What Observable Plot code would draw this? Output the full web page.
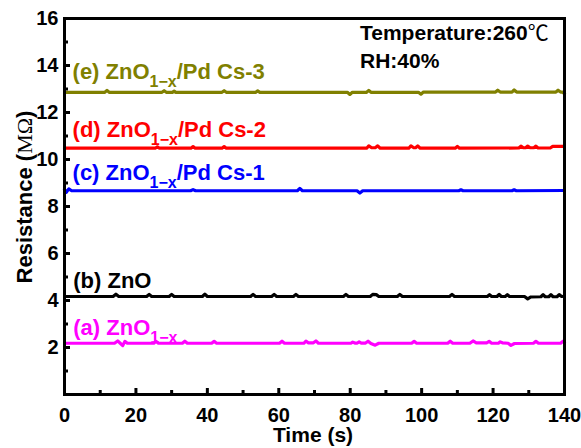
<!DOCTYPE html>
<html><head><meta charset="utf-8">
<script src="https://cdn.jsdelivr.net/npm/d3@7"></script>
<script src="https://cdn.jsdelivr.net/npm/@observablehq/plot@0.6"></script>
<style>body{margin:0;background:#fff} #chart svg{overflow:visible}</style>
</head><body><div id="chart"></div>
<script>
// Series: [time (s), resistance (MΩ)]
const seriesA = [[0,2.18],[14,2.18],[14.9,2.28],[15.6,2.18],[16.3,2.08],[16.9,2.26],[17.6,2.18],[25,2.18],[25.6,2.26],[26.3,2.18],[33,2.18],[33.7,2.27],[34.4,2.18],[41.2,2.18],[41.9,2.26],[42.6,2.18],[60.2,2.18],[60.9,2.27],[61.6,2.18],[67,2.18],[67.6,2.27],[68.3,2.2],[69.7,2.2],[70.4,2.28],[71.1,2.18],[80.2,2.18],[80.7,2.23],[81.3,2.19],[82,2.19],[82.5,2.24],[83.1,2.19],[84.3,2.19],[85,2.27],[85.8,2.17],[87,2.1],[88,2.18],[97.2,2.18],[97.9,2.26],[98.6,2.18],[107.3,2.18],[108,2.27],[108.7,2.18],[113.5,2.18],[114.4,2.28],[115.3,2.2],[118.2,2.2],[118.9,2.26],[119.6,2.18],[121.5,2.18],[122,2.24],[122.6,2.2],[124.2,2.18],[125,2.09],[126,2.17],[131.3,2.18],[132,2.26],[132.7,2.18],[138.9,2.18],[139.6,2.27],[140,2.2]];
const seriesB = [[0,4.17],[13.6,4.17],[14.4,4.27],[15.2,4.17],[23,4.17],[23.7,4.26],[24.4,4.17],[29.3,4.17],[30,4.26],[30.7,4.17],[38.6,4.17],[39.3,4.27],[40,4.17],[52.1,4.17],[52.8,4.26],[53.5,4.17],[58,4.17],[58.7,4.26],[59.4,4.17],[64.1,4.17],[64.8,4.26],[65.5,4.17],[78.1,4.17],[78.8,4.26],[79.5,4.17],[85.6,4.17],[86.3,4.26],[87.3,4.25],[88,4.17],[93.2,4.17],[93.9,4.26],[94.6,4.17],[107.8,4.17],[108.5,4.26],[109.2,4.17],[118.4,4.17],[119,4.25],[119.6,4.17],[121.1,4.17],[121.7,4.26],[122.3,4.17],[123.4,4.17],[124,4.25],[124.6,4.17],[128.8,4.17],[129.7,4.07],[130.6,4.15],[133.4,4.16],[134,4.25],[134.6,4.16],[135.6,4.16],[136.2,4.25],[136.8,4.16],[137.9,4.16],[138.5,4.25],[139.2,4.17],[140,4.18]];
const seriesC = [[0,8.73],[0.5,8.6],[1.2,8.75],[2,8.67],[35.3,8.67],[36,8.72],[36.7,8.67],[65.2,8.67],[65.9,8.77],[66.6,8.67],[81.9,8.67],[82.7,8.57],[83.5,8.67],[110.4,8.67],[111,8.71],[111.6,8.67],[125.3,8.67],[125.9,8.71],[126.5,8.67],[140,8.68]];
const seriesD = [[0,10.48],[25.4,10.48],[26,10.54],[26.6,10.48],[35.4,10.48],[36,10.55],[36.6,10.48],[44.1,10.48],[44.7,10.55],[45.3,10.48],[84.6,10.48],[85.2,10.58],[86,10.5],[87,10.5],[87.7,10.58],[88.4,10.48],[96.4,10.48],[97,10.58],[97.8,10.5],[98.3,10.5],[98.9,10.58],[99.6,10.48],[109.4,10.48],[110,10.56],[110.6,10.48],[127.2,10.49],[127.8,10.57],[128.5,10.5],[129.1,10.5],[129.7,10.57],[130.4,10.5],[131.4,10.5],[132,10.57],[132.6,10.49],[136,10.49],[136.7,10.56],[140,10.56]];
const seriesE = [[0,12.86],[11.3,12.86],[11.9,12.94],[12.5,12.86],[27.3,12.86],[27.9,12.93],[28.5,12.86],[30.2,12.86],[30.7,12.91],[31.2,12.86],[44.1,12.86],[44.7,12.93],[45.3,12.86],[53.5,12.86],[54.1,12.92],[54.7,12.86],[79.2,12.86],[79.9,12.77],[80.6,12.86],[84.6,12.86],[85.2,12.94],[85.8,12.86],[99.1,12.86],[99.8,12.78],[100.5,12.87],[120.7,12.87],[121.3,12.95],[122,12.87],[125.3,12.87],[125.9,12.96],[126.6,12.87],[137.6,12.87],[138.2,12.95],[138.9,12.87],[139.4,12.87],[140,12.8]];

const seriesNames  = ["(a) ZnO1−x", "(b) ZnO", "(c) ZnO1−x/Pd Cs-1", "(d) ZnO1−x/Pd Cs-2", "(e) ZnO1−x/Pd Cs-3"];
const seriesColors = ["#ff00ff", "#000000", "#0000ff", "#ff0000", "#808000"];
const allSeries    = [seriesA, seriesB, seriesC, seriesD, seriesE];

// Label pieces: main text, subscript, suffix; anchor in data coords (t, MΩ)
const labelMain = ["(a) ZnO", "(b) ZnO", "(c) ZnO", "(d) ZnO", "(e) ZnO"];
const labelSub  = ["1−x", "", "1−x", "1−x", "1−x"];
const labelPost = ["", "", "/Pd Cs-1", "/Pd Cs-2", "/Pd Cs-3"];
const labelT    = [2.6, 2.6, 2.4, 2.4, 2.4];
const labelV    = [2.51, 4.51, 9.1, 10.94, 13.4];

const xMajor = [0, 20, 40, 60, 80, 100, 120, 140];
const xMinor = [10, 30, 50, 70, 90, 110, 130];
const yMajor = [2, 4, 6, 8, 10, 12, 14, 16];
const yMinor = [1, 3, 5, 7, 9, 11, 13, 15];

const rows = allSeries.flatMap((s, i) => s.map(([t, v]) => ({t, v, name: seriesNames[i], color: seriesColors[i]})));

const font = "'Liberation Sans', Arial, sans-serif";
const chart = Plot.plot({
  width: 581, height: 448,
  marginLeft: 64, marginRight: 17, marginTop: 18, marginBottom: 54,
  style: {fontFamily: font, fontWeight: "bold", fontSize: "18px", background: "#fff", color: "#000"},
  x: {domain: [0, 140]},
  y: {domain: [0, 16]},
  marks: [
    Plot.line(rows, {x: "t", y: "v", z: "name", stroke: "color", strokeWidth: 3.2, strokeLinejoin: "round"}),
    Plot.frame({stroke: "#000", strokeWidth: 3}),
    Plot.axisX({ticks: xMajor, tickSize: 0, tickPadding: 13, fontSize: 20, fontWeight: "bold", tickFormat: d => String(d), label: null}),
    Plot.axisX({ticks: xMajor, tickSize: -6, text: null, strokeWidth: 3, label: null}),
    Plot.axisX({ticks: xMinor, tickSize: -4, text: null, strokeWidth: 3, label: null}),
    Plot.axisY({ticks: yMajor, tickSize: 0, tickPadding: 6, fontSize: 20, fontWeight: "bold", tickFormat: d => String(d), label: null}),
    Plot.axisY({ticks: yMajor, tickSize: -6, text: null, strokeWidth: 3, label: null}),
    Plot.axisY({ticks: yMinor, tickSize: -4, text: null, strokeWidth: 3, label: null})
  ]
});
document.getElementById("chart").appendChild(chart);

const svg = d3.select(chart);
const sx = chart.scale("x"), sy = chart.scale("y");
const g = svg.append("g").attr("font-family", font).attr("font-weight", "bold").attr("text-anchor", "start");
labelMain.forEach((m, i) => {
  const t = g.append("text")
    .attr("x", sx.apply(labelT[i])).attr("y", sy.apply(labelV[i]))
    .attr("fill", seriesColors[i]).attr("font-size", 22);
  t.append("tspan").text(m);
  if (labelSub[i]) t.append("tspan").attr("font-size", 16).attr("dy", 8).text(labelSub[i]);
  if (labelPost[i]) t.append("tspan").attr("dy", -8).text(labelPost[i]);
});
// annotation
g.append("text").attr("x", 360).attr("y", 40).attr("font-size", 21).attr("fill", "#000")
  .call(t => { t.append("tspan").text("Temperature:260"); t.append("tspan").attr("font-weight", "normal").attr("font-family", "'Noto Sans CJK SC', sans-serif").text("℃"); });
g.append("text").attr("x", 360).attr("y", 68).attr("font-size", 21).attr("fill", "#000").text("RH:40%");
// axis titles
g.append("text").attr("x", 313).attr("y", 442).attr("text-anchor", "middle").attr("font-size", 21).text("Time (s)");
g.append("text").attr("transform", "translate(32,197) rotate(-90)").attr("text-anchor", "middle").attr("font-size", 22)
  .call(t => { t.append("tspan").text("Resistance ("); t.append("tspan").attr("font-family", "'Liberation Serif', serif").attr("font-weight", "normal").text("MΩ"); t.append("tspan").text(")"); });
</script>
</body></html>
